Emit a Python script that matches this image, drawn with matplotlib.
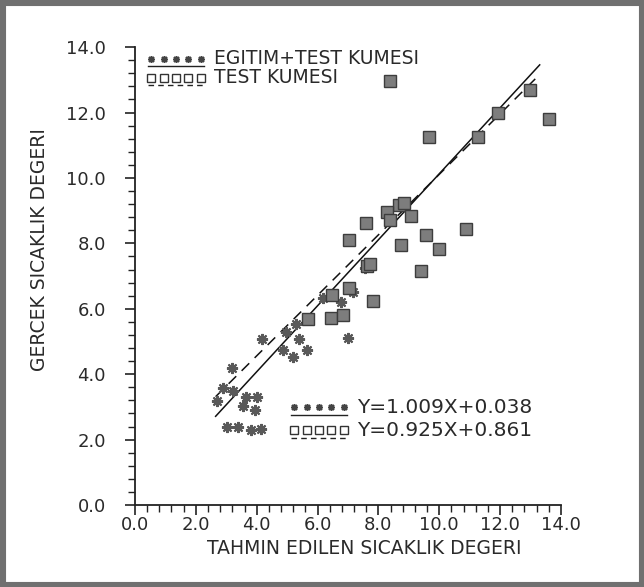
import numpy as np
import matplotlib
matplotlib.use('Agg')
import matplotlib.pyplot as plt
from matplotlib.ticker import MultipleLocator, FormatStrFormatter
from matplotlib.patches import Rectangle

# training + test set (stars)
train_x = [5.29, 4.96, 4.17, 5.39, 4.86, 5.65, 5.19, 3.19, 2.89, 3.22, 2.69, 3.65, 4.01,
           3.55, 3.94, 3.02, 3.38, 3.81, 4.14, 6.18, 6.77, 7.16, 7.00, 7.03, 7.56]
train_y = [5.52, 5.28, 5.09, 5.09, 4.73, 4.73, 4.51, 4.18, 3.57, 3.48, 3.17, 3.29, 3.29,
           3.02, 2.90, 2.38, 2.38, 2.29, 2.32, 6.34, 6.22, 6.50, 5.12, 6.65, 7.26]

# test set (squares)
test_x = [8.38, 12.98, 11.93, 13.60, 9.66, 11.27, 8.68, 8.84, 8.28, 8.38, 9.07, 7.59, 10.88,
          9.56, 7.03, 8.74, 9.99, 9.40, 7.62, 7.72, 7.03, 6.47, 7.82, 5.69, 6.44, 6.84]
test_y = [12.96, 12.69, 11.99, 11.80, 11.25, 11.25, 9.18, 9.24, 8.97, 8.72, 8.84, 8.63, 8.45,
          8.26, 8.11, 7.96, 7.84, 7.14, 7.32, 7.38, 6.65, 6.43, 6.25, 5.70, 5.73, 5.82]

# regression lines: slope, intercept
fit_train = (1.009, 0.038)
fit_test = (0.925, 0.861)
fit_range = (2.65, 13.3)

plt.rcParams['font.family'] = 'DejaVu Sans'
TXT = '#2a2a2a'

fig = plt.figure(figsize=(6.44, 5.87), dpi=100)
fig.patch.set_facecolor('white')
# grey frame round the whole figure
fig.patches.append(Rectangle((0, 0), 1, 1, transform=fig.transFigure,
                             fill=False, edgecolor='#707070', linewidth=8))

ax = fig.add_axes([0.2096, 0.1397, 0.6615, 0.780])
ax.set_xlim(0, 14)
ax.set_ylim(0, 14)
for s in ['top', 'right']:
    ax.spines[s].set_visible(False)
for s in ['left', 'bottom']:
    ax.spines[s].set_linewidth(1.3)
    ax.spines[s].set_color('#222222')

ax.xaxis.set_major_locator(MultipleLocator(2))
ax.yaxis.set_major_locator(MultipleLocator(2))
ax.xaxis.set_minor_locator(MultipleLocator(0.4))
ax.yaxis.set_minor_locator(MultipleLocator(0.4))
ax.xaxis.set_major_formatter(FormatStrFormatter('%.1f'))
ax.yaxis.set_major_formatter(FormatStrFormatter('%.1f'))
ax.tick_params(which='major', direction='out', length=7, width=1.2, color='#222222',
               labelsize=13, labelcolor=TXT, pad=3)
ax.tick_params(which='minor', direction='out', length=5, width=1.0, color='#222222')
ax.tick_params(axis='y', pad=14)
ax.tick_params(axis='x', pad=1)

# fitted lines
xs = np.array(fit_range)
ax.plot(xs, fit_train[0] * xs + fit_train[1], color='#111111', lw=1.1, ls='-')
ax.plot(xs, fit_test[0] * xs + fit_test[1], color='#111111', lw=1.1, ls=(0, (7, 5)))

star = (8, 2, 0)
ax.plot(train_x, train_y, ls='none', marker=star, ms=8, mew=1.5, color='#595959')
ax.plot(test_x, test_y, ls='none', marker='s', ms=9, mfc='#7d7d7d', mec='#3d3d3d', mew=1.0)


def legend_row(x, y, marker, dashed, label, size):
    mx = x + np.arange(5) * 0.029
    if marker == 'star':
        ax.plot(mx, [y] * 5, ls='none', marker=star, ms=5, mew=1.1, color='#444444',
                transform=ax.transAxes, clip_on=False)
    else:
        ax.plot(mx, [y] * 5, ls='none', marker='s', ms=6, mfc='white', mec='#333333',
                mew=1.0, transform=ax.transAxes, clip_on=False)
    ax.plot([mx[0] - 0.008, mx[-1] + 0.008], [y - 0.016, y - 0.016],
            color='#222222', lw=1.0, ls=(0, (4, 3)) if dashed else '-',
            transform=ax.transAxes, clip_on=False)
    ax.text(mx[-1] + 0.032, y, label, transform=ax.transAxes, ha='left', va='center',
            fontsize=size, color=TXT)


legend_row(0.038, 0.975, 'star', False, 'EGITIM+TEST KUMESI', 13.5)
legend_row(0.038, 0.933, 'square', True, 'TEST KUMESI', 13.5)
legend_row(0.374, 0.213, 'star', False, 'Y=%.3fX+%.3f' % fit_train, 14.5)
legend_row(0.374, 0.163, 'square', True, 'Y=%.3fX+%.3f' % fit_test, 14.5)

fig.text(364 / 644, 1 - 548 / 587, 'TAHMIN EDILEN SICAKLIK DEGERI', ha='center',
         va='center', fontsize=13.5, color=TXT)
fig.text(40 / 644, 1 - 250 / 587, 'GERCEK SICAKLIK DEGERI', ha='center', va='center',
         rotation=90, fontsize=13.5, color=TXT)

fig.savefig('out.png', dpi=100)
